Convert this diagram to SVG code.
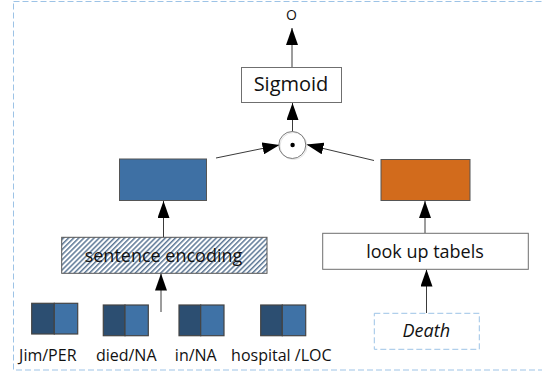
<svg xmlns="http://www.w3.org/2000/svg" width="542" height="376" viewBox="0 0 542 376">
  <style>
    .t { font-family: "Open Sans", "Liberation Sans", sans-serif; fill: #111; text-anchor: middle; }
    .box { fill: #fff; stroke: #6f6f6f; stroke-width: 1; }
    .conn { stroke: #3a3a3a; stroke-width: 1; fill: none; marker-end: url(#ah); }
    .dark { fill: #2c4e71; stroke: #444; stroke-width: 1.2; }
    .light { fill: #3f72a6; stroke: #444; stroke-width: 1.2; }
    .dash { fill: none; stroke: #9dc3e6; stroke-width: 1; stroke-dasharray: 6 3; }
  </style>
  <defs>
    <marker id="ah" markerWidth="17" markerHeight="12" refX="17" refY="6" orient="auto" markerUnits="userSpaceOnUse">
      <path d="M0,0 L17,6 L0,12 Z" fill="#000"/>
    </marker>
    <pattern id="hatch" patternUnits="userSpaceOnUse" width="3.6" height="4" patternTransform="rotate(45)">
      <rect width="3.6" height="4" fill="#ffffff"/>
      <rect width="1.5" height="4" fill="#5d7896"/>
    </pattern>
  </defs>

  <rect id="frame" class="dash" x="13.5" y="1.5" width="540" height="368.5"/>

  <g id="connectors">
    <line class="conn" x1="292" y1="67" x2="292" y2="28"/>
    <line class="conn" x1="292.5" y1="131.5" x2="292.5" y2="103"/>
    <line class="conn" x1="216" y1="158" x2="279.5" y2="145"/>
    <line class="conn" x1="374" y1="160.5" x2="306.5" y2="144.5"/>
    <line class="conn" x1="163.5" y1="237" x2="163.5" y2="201"/>
    <line class="conn" x1="425" y1="233" x2="425" y2="201"/>
    <line class="conn" x1="161" y1="312" x2="161" y2="273.5"/>
    <line class="conn" x1="426.5" y1="313" x2="426.5" y2="269.5"/>
  </g>

  <g id="output">
    <text class="t" x="291.5" y="19.5" font-size="14">O</text>
  </g>

  <g id="sigmoid">
    <rect class="box" x="241.5" y="67.5" width="100" height="35"/>
    <text class="t" x="291" y="90.7" font-size="20">Sigmoid</text>
  </g>

  <g id="product">
    <circle cx="293.5" cy="146" r="13.5" fill="none" stroke="#e3e3e3" stroke-width="1"/>
    <circle cx="292.3" cy="145" r="13.5" fill="none" stroke="#7a7a7a" stroke-width="1"/>
    <circle cx="292.6" cy="145" r="2.2" fill="#000"/>
  </g>

  <g id="sentence-vector">
    <rect x="119.5" y="159" width="87" height="41.5" fill="#3e70a4" stroke="#555" stroke-width="1"/>
  </g>

  <g id="entity-vector">
    <rect x="381" y="159.5" width="89" height="41" fill="#d26b1c" stroke="#555" stroke-width="1"/>
  </g>

  <g id="sentence-encoding">
    <rect x="61.7" y="237.3" width="205.3" height="36" fill="url(#hatch)" stroke="#555" stroke-width="1"/>
    <text class="t" x="163.5" y="261.7" font-size="18">sentence encoding</text>
  </g>

  <g id="lookup">
    <rect class="box" x="322.7" y="233.3" width="205.6" height="36"/>
    <text class="t" x="425" y="257.5" font-size="18">look up tabels</text>
  </g>

  <g id="death">
    <rect class="dash" x="374.3" y="313.3" width="105" height="36"/>
    <text class="t" x="426.3" y="336.7" font-size="18" font-style="italic">Death</text>
  </g>

  <g id="word-jim">
    <rect class="dark" x="31.7" y="303.3" width="22.6" height="30.7"/>
    <rect class="light" x="54.3" y="303.3" width="23.4" height="30.7"/>
    <text class="t" x="47.8" y="360.7" font-size="16">Jim/PER</text>
  </g>

  <g id="word-died">
    <rect class="dark" x="103.3" y="305" width="21.7" height="30.7"/>
    <rect class="light" x="125" y="305" width="23.3" height="30.7"/>
    <text class="t" x="126.2" y="360.7" font-size="16">died/NA</text>
  </g>

  <g id="word-in">
    <rect class="dark" x="179" y="305" width="21.7" height="30.7"/>
    <rect class="light" x="200.7" y="305" width="23.3" height="30.7"/>
    <text class="t" x="195.8" y="360.7" font-size="16">in/NA</text>
  </g>

  <g id="word-hospital">
    <rect class="dark" x="260.7" y="305" width="21.6" height="30.7"/>
    <rect class="light" x="282.3" y="305" width="23.4" height="30.7"/>
    <text class="t" x="281.3" y="360.7" font-size="16">hospital /LOC</text>
  </g>
</svg>
